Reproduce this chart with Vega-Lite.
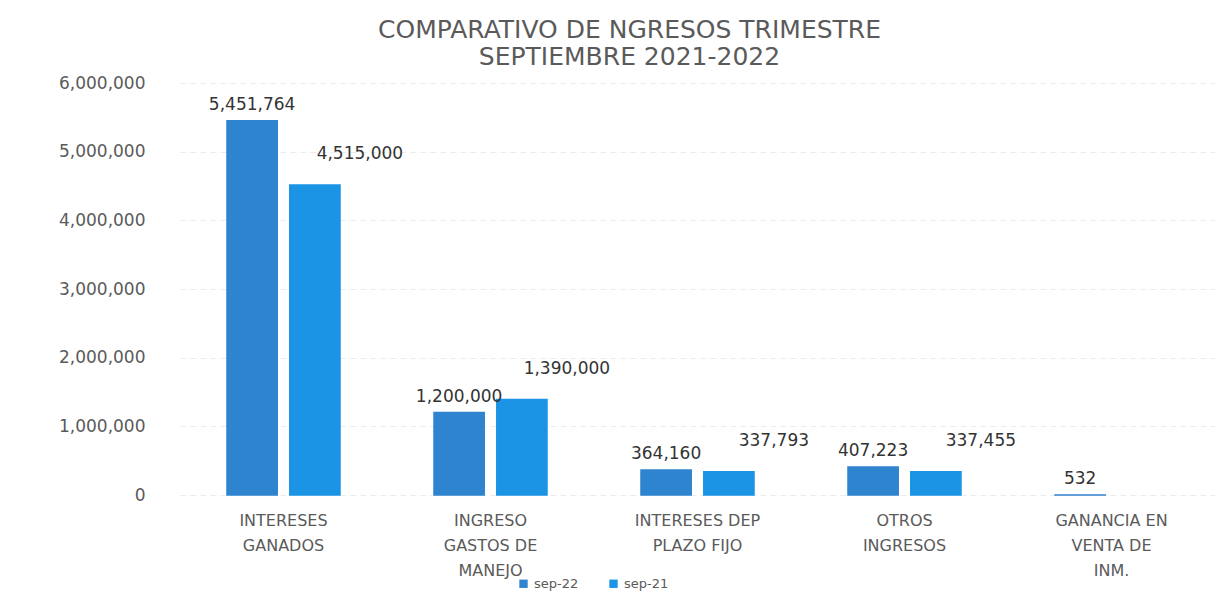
{
  "$schema": "https://vega.github.io/schema/vega-lite/v6.json",
  "autosize": "none",
  "width": 1035,
  "height": 412,
  "padding": {"left": 180, "top": 83, "right": 9, "bottom": 110},
  "background": "white",
  "title": {
    "text": ["COMPARATIVO DE NGRESOS TRIMESTRE", "SEPTIEMBRE 2021-2022"],
    "anchor": "middle",
    "dx": -68,
    "offset": 4,
    "font": "DejaVu Sans",
    "fontSize": 25,
    "fontWeight": "normal",
    "color": "#5a5a5a",
    "lineHeight": 27
  },
  "config": {
    "view": {"stroke": null},
    "font": "DejaVu Sans"
  },
  "data": {
    "values": [
      {"categoria": "INTERESES|GANADOS", "serie": "sep-22", "valor": 5451764},
      {"categoria": "INTERESES|GANADOS", "serie": "sep-21", "valor": 4515000},
      {"categoria": "INGRESO|GASTOS DE|MANEJO", "serie": "sep-22", "valor": 1200000},
      {"categoria": "INGRESO|GASTOS DE|MANEJO", "serie": "sep-21", "valor": 1390000},
      {"categoria": "INTERESES DEP|PLAZO FIJO", "serie": "sep-22", "valor": 364160},
      {"categoria": "INTERESES DEP|PLAZO FIJO", "serie": "sep-21", "valor": 337793},
      {"categoria": "OTROS|INGRESOS", "serie": "sep-22", "valor": 407223},
      {"categoria": "OTROS|INGRESOS", "serie": "sep-21", "valor": 337455},
      {"categoria": "GANANCIA EN|VENTA DE|INM.", "serie": "sep-22", "valor": 532}
    ]
  },
  "encoding": {
    "x": {
      "field": "categoria",
      "type": "nominal",
      "sort": null,
      "scale": {"paddingInner": 0.454, "paddingOuter": 0.227},
      "axis": {
        "title": null,
        "labelAngle": 0,
        "labelExpr": "split(datum.value, '|')",
        "labelFont": "DejaVu Sans",
        "labelFontSize": 16,
        "labelColor": "#5a5a5a",
        "labelLineHeight": 25,
        "labelPadding": 17,
        "ticks": false,
        "domain": false,
        "labelBaseline": "top"
      }
    },
    "xOffset": {
      "field": "serie",
      "type": "nominal",
      "sort": ["sep-22", "sep-21"],
      "scale": {"paddingInner": 0.2}
    },
    "y": {
      "field": "valor",
      "type": "quantitative",
      "scale": {"domain": [0, 6000000], "nice": false},
      "axis": {
        "title": null,
        "values": [0, 1000000, 2000000, 3000000, 4000000, 5000000, 6000000],
        "format": ",.0f",
        "labelFont": "DejaVu Sans",
        "labelFontSize": 17,
        "labelColor": "#5a5a5a",
        "labelPadding": 35,
        "ticks": false,
        "domain": false,
        "gridColor": "#ececec",
        "gridDash": [6, 4]
      }
    }
  },
  "layer": [
    {
      "mark": {"type": "bar", "strokeWidth": 1.5},
      "encoding": {
        "color": {
          "field": "serie",
          "type": "nominal",
          "sort": ["sep-22", "sep-21"],
          "scale": {"domain": ["sep-22", "sep-21"], "range": ["#2f84d0", "#1b94e6"]},
          "legend": {
            "title": null,
            "orient": "none",
            "direction": "horizontal",
            "legendX": 337,
            "legendY": 494,
            "symbolType": "square",
            "symbolSize": 70,
            "symbolStrokeWidth": 0,
            "labelFont": "DejaVu Sans",
            "labelFontSize": 13,
            "labelColor": "#5a5a5a",
            "columnPadding": 28
          }
        },
        "stroke": {
          "field": "serie",
          "type": "nominal",
          "scale": {"domain": ["sep-22", "sep-21"], "range": ["#2f84d0", "#1b94e6"]},
          "legend": null
        }
      }
    },
    {
      "transform": [{"filter": "datum.serie === 'sep-22'"}],
      "mark": {"type": "text", "dy": -7, "fontSize": 17, "color": "#333333", "font": "DejaVu Sans", "baseline": "bottom"},
      "encoding": {"text": {"field": "valor", "type": "quantitative", "format": ",.0f"}}
    },
    {
      "transform": [{"filter": "datum.serie === 'sep-21'"}],
      "mark": {"type": "text", "dy": -22, "dx": 45, "fontSize": 17, "color": "#333333", "font": "DejaVu Sans", "baseline": "bottom"},
      "encoding": {"text": {"field": "valor", "type": "quantitative", "format": ",.0f"}}
    }
  ]
}
